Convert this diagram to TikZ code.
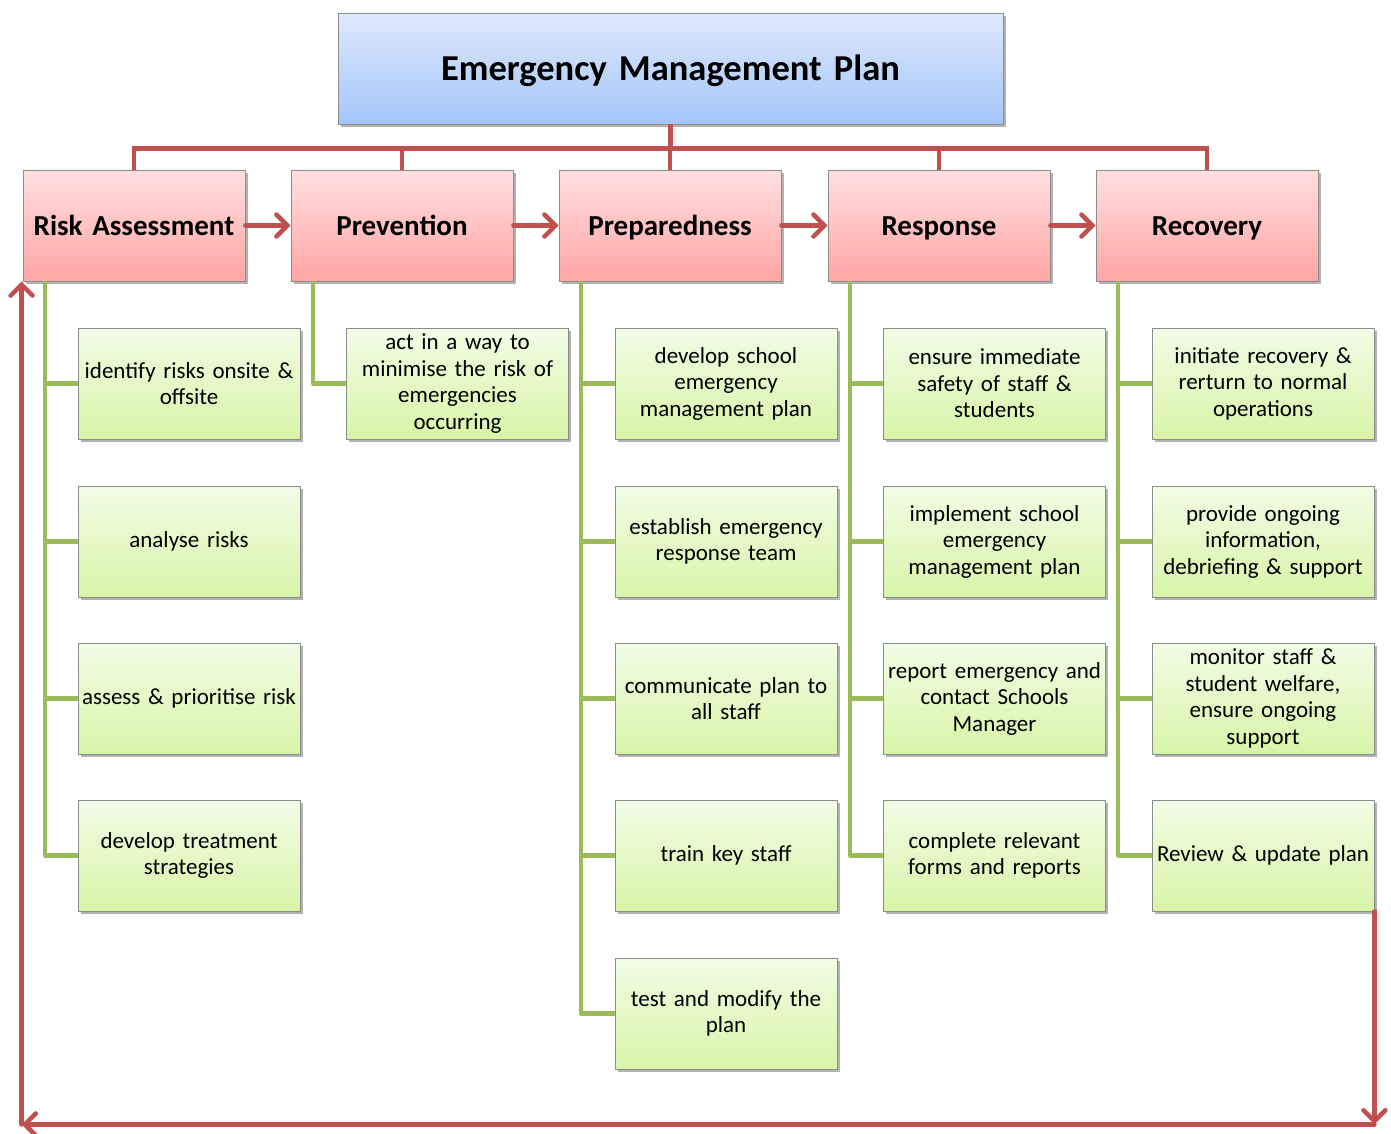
\documentclass[tikz,border=0pt]{standalone}
\usepackage{fontspec}
\setmainfont{Carlito}
\usetikzlibrary{arrows.meta,shadows,calc}
\definecolor{redline}{RGB}{192,80,77}
\definecolor{greenline}{RGB}{155,187,89}
\definecolor{pinktop}{RGB}{255,223,223}
\definecolor{pinkbot}{RGB}{255,165,165}
\definecolor{greentop}{RGB}{242,252,230}
\definecolor{greenbot}{RGB}{215,245,168}
\definecolor{bluetop}{RGB}{222,233,252}
\definecolor{bluebot}{RGB}{164,197,250}
\definecolor{boxedge}{RGB}{140,140,140}
\begin{document}
\begin{tikzpicture}[x=1pt,y=-1pt,
  basebox/.style={draw=boxedge,line width=0.8pt,inner sep=1pt,align=center,
    minimum width=222pt,minimum height=111pt,text width=220pt,
    drop shadow={shadow xshift=2.5pt,shadow yshift=-2.5pt,opacity=0.3,fill=black}},
  planbox/.style={basebox,top color=bluetop,bottom color=bluebot,
    minimum width=665pt,text width=660pt,text height=27pt,text depth=4pt,
    font=\fontsize{36.5}{42}\selectfont\bfseries},
  phasebox/.style={basebox,top color=pinktop,bottom color=pinkbot,
    text height=23pt,text depth=3pt,
    font=\fontsize{29}{34}\selectfont\bfseries},
  taskbox/.style={basebox,top color=greentop,bottom color=greenbot,
    font=\fontsize{23}{26.5}\selectfont},
  redlink/.style={draw=redline,line width=4.5pt},
  redarrow/.style={redlink,-{Straight Barb[length=11pt,width=22pt,line cap=round]},line cap=round},
  greenlink/.style={draw=greenline,line width=4.5pt,line join=round}
]
\useasboundingbox (0,0) rectangle (1391,1133);

% top of the hierarchy
\node[planbox] (plan) at (670.5,68.5) {Emergency Management Plan};

% the five phases
\node[phasebox] (ra)   at (134,225.5)  {Risk Assessment};
\node[phasebox] (prev) at (402,225.5)  {Prevention};
\node[phasebox] (prep) at (670,225.5)  {Preparedness};
\node[phasebox] (resp) at (939,225.5)  {Response};
\node[phasebox] (rec)  at (1207,225.5) {Recovery};

% tasks: risk assessment
\node[taskbox] (a1) at (189,383.5) {identify risks onsite \&\\offsite};
\node[taskbox] (a2) at (189,541.5) {analyse risks};
\node[taskbox] (a3) at (189,698.5) {assess \& prioritise risk};
\node[taskbox] (a4) at (189,855.5) {develop treatment\\strategies};
% tasks: prevention
\node[taskbox] (b1) at (457.5,383.5) {act in a way to\\minimise the risk of\\emergencies\\occurring};
% tasks: preparedness
\node[taskbox] (c1) at (726,383.5)  {develop school\\emergency\\management plan};
\node[taskbox] (c2) at (726,541.5)  {establish emergency\\response team};
\node[taskbox] (c3) at (726,698.5)  {communicate plan to\\all staff};
\node[taskbox] (c4) at (726,855.5)  {train key staff};
\node[taskbox] (c5) at (726,1013.5) {test and modify the\\plan};
% tasks: response
\node[taskbox] (d1) at (994.5,383.5) {ensure immediate\\safety of staff \&\\students};
\node[taskbox] (d2) at (994.5,541.5) {implement school\\emergency\\management plan};
\node[taskbox] (d3) at (994.5,698.5) {report emergency and\\contact Schools\\Manager};
\node[taskbox] (d4) at (994.5,855.5) {complete relevant\\forms and reports};
% tasks: recovery
\node[taskbox] (e1) at (1263,383.5) {initiate recovery \&\\rerturn to normal\\operations};
\node[taskbox] (e2) at (1263,541.5) {provide ongoing\\information,\\debriefing \& support};
\node[taskbox] (e3) at (1263,698.5) {monitor staff \&\\student welfare,\\ensure ongoing\\support};
\node[taskbox] (e4) at (1263,855.5) {Review \& update plan};

% bus from the plan to every phase
\coordinate (bus) at ($(plan.south)+(0,24)$);
\draw[redlink] (plan.south) -- (bus);
\foreach \p in {ra,prev,prep,resp,rec}
  \draw[redlink] (\p.north) |- (bus);

% sequence of phases
\draw[redarrow] (ra.east)   -- (prev.west);
\draw[redarrow] (prev.east) -- (prep.west);
\draw[redarrow] (prep.east) -- (resp.west);
\draw[redarrow] (resp.east) -- (rec.west);

% task trunks
\foreach \p/\list in {ra/{a1,a2,a3,a4},prev/{b1},prep/{c1,c2,c3,c4,c5},resp/{d1,d2,d3,d4},rec/{e1,e2,e3,e4}}
  \foreach \t in \list
    \draw[greenlink] ($(\p.south west)+(22.5,0)$) |- (\t.west);

% feedback loop back to risk assessment
\coordinate (loopR) at ($(e4.south east)+(0,213)$);
\coordinate (loopL) at ($(ra.south west |- loopR)+(-1,0)$);
\draw[redarrow] (e4.south east) -- (loopR);
\draw[redarrow] (loopR) -- (loopL);
\draw[redarrow] (loopL) -- ($(ra.south west)+(-1,0)$);
\end{tikzpicture}
\end{document}
